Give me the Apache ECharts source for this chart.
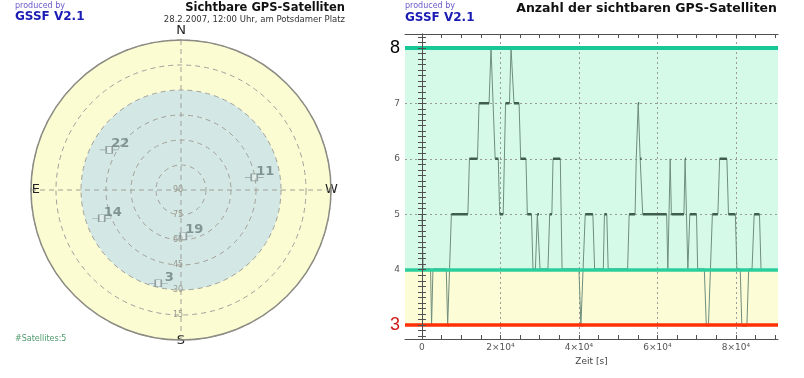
<!DOCTYPE html>
<html>
<head>
<meta charset="utf-8">
<script src="https://cdn.jsdelivr.net/npm/echarts@6/dist/echarts.min.js"></script>
<style>html,body{margin:0;padding:0;background:#fff}#c{width:804px;height:378px}</style>
</head>
<body>
<div id="c"></div>
<script>
// ---- skyplot data ----
const satIds = ['22', '11', '14', '19', '3'];
const satElevation = [40.7, 45.4, 39.5, 62.4, 32.4];
const satAzimuth = [60.8, 279.8, 109.6, 182.9, 166.3];
const elevTicks = [90, 75, 60, 45, 30, 15];
const compass = ['N', 'E', 'S', 'W'];   // azimuth 0, 90, 180, 270

// ---- visible satellite count over time ----
const timeS = [0, 300, 2200, 2450, 2550, 2800, 6200, 6550, 6900, 7500,
  11700, 12100, 14150, 14550, 17100, 17600, 18000, 18650, 19450, 19800,
  20700, 21300, 22300, 22700, 23000, 23450, 24750, 25150, 26500, 26850,
  27900, 28300, 28900, 29400, 29800, 30100, 32100, 32550, 33100, 33400,
  35250, 35700, 40000, 40500, 41000, 41600, 43550, 44000, 46200, 46500,
  47100, 47450, 52400, 52800, 54300, 54600, 54750, 55100, 55350, 55600,
  55950, 56250, 62350, 62650, 63250, 63550, 66750, 67050, 67250, 67750,
  68250, 69950, 70250, 71950, 72450, 73000, 74000, 75400, 75850, 77700,
  78100, 79850, 80250, 81100, 81500, 82800, 83250, 84100, 84650, 86000, 86400];
const satCount = [5, 4, 4, 3, 3, 4, 4, 3, 3, 5,
  5, 6, 6, 7, 7, 8, 8, 6, 6, 5,
  5, 7, 7, 8, 8, 7, 7, 6, 6, 5,
  5, 4, 4, 5, 5, 4, 4, 5, 5, 6,
  6, 4, 4, 3, 3, 5, 5, 4, 4, 5,
  5, 4, 4, 5, 5, 6, 6, 7, 7, 6,
  6, 5, 5, 4, 6, 5, 5, 6, 6, 4,
  5, 5, 4, 4, 3, 3, 5, 5, 6, 6,
  5, 5, 4, 4, 3, 3, 4, 4, 5, 5, 4];
const yTickLabels = [3, 4, 5, 6, 7, 8];
const xTickLabels = [0, 20000, 40000, 60000, 80000];
const xRange = [-4320, 90720];
const yRange = [2.75, 8.25];

const xMinor = []; for (let t = 0; t <= 90000; t += 5000) xMinor.push(t);
const yMinor = []; for (let k = 28; k <= 82; k++) yMinor.push(k / 10);

const lineData = timeS.map((t, i) => [t, satCount[i]]);
const flatData = [];
for (let i = 0; i < timeS.length - 1; i++) {
  if (satCount[i] === satCount[i + 1]) {
    flatData.push([timeS[i], satCount[i]], [timeS[i + 1], satCount[i]], [timeS[i + 1], null]);
  }
}

const FONT = 'DejaVu Sans';
const chart = echarts.init(document.getElementById('c'), null, {renderer: 'canvas'});

const xFmt = v => v === 0 ? '0' : (v / 10000) + '×10⁴';
const axisCol = '#505050';
const dashCol = '#a0a098';
const polarBox = {center: [181, 190], radius: 150};

chart.setOption({
  animation: false,
  textStyle: {fontFamily: FONT},
  title: [
    {text: 'produced by', left: 15, top: 2, padding: 0, textStyle: {fontSize: 8, fontWeight: 'normal', color: '#6a5ac8', fontFamily: FONT}},
    {text: 'GSSF V2.1', left: 15, top: 11, padding: 0, textStyle: {fontSize: 12, fontWeight: 'bold', color: '#1a1ab4', fontFamily: FONT}},
    {text: 'Sichtbare GPS-Satelliten', left: 345, top: 2, padding: 0, textAlign: 'right',
     subtext: '28.2.2007, 12:00 Uhr, am Potsdamer Platz', itemGap: 1,
     textStyle: {fontSize: 11.5, fontWeight: 'bold', color: '#111', fontFamily: FONT},
     subtextStyle: {fontSize: 8.5, color: '#333', fontFamily: FONT}},
    {text: 'produced by', left: 405, top: 2, padding: 0, textStyle: {fontSize: 8, fontWeight: 'normal', color: '#6a5ac8', fontFamily: FONT}},
    {text: 'GSSF V2.1', left: 405, top: 12, padding: 0, textStyle: {fontSize: 12, fontWeight: 'bold', color: '#1a1ab4', fontFamily: FONT}},
    {text: 'Anzahl der sichtbaren GPS-Satelliten', left: 777, top: 2, padding: 0, textAlign: 'right',
     textStyle: {fontSize: 12.5, fontWeight: 'bold', color: '#111', fontFamily: FONT}},
    {text: '#Satellites:' + satIds.length, left: 15, top: 335, padding: 0,
     textStyle: {fontSize: 8, fontWeight: 'normal', color: '#4f9a6c', fontFamily: FONT}}
  ],
  polar: [polarBox, polarBox],
  angleAxis: [
    { // background polar: fills only
      polarIndex: 0, type: 'value', min: 0, max: 360, interval: 90, startAngle: 270, clockwise: false, z: 0,
      axisLine: {show: false}, axisTick: {show: false}, axisLabel: {show: false}, splitLine: {show: false}
    },
    {
      polarIndex: 1, type: 'value', min: 0, max: 360, interval: 90, startAngle: 270, clockwise: false, z: 2,
      axisLine: {lineStyle: {color: '#8c8c84', width: 1.5}},
      axisTick: {show: false},
      axisLabel: {
        margin: -9,
        formatter: v => {
          if (v >= 360) return '';
          const c = compass[((v + 180) % 360) / 90];
          return '{' + c.toLowerCase() + '|' + c + '}';
        },
        rich: {
          n: {fontSize: 13, color: '#222', padding: [0, 0, 12, 0], fontFamily: FONT},
          s: {fontSize: 13, color: '#222', padding: [3, 0, 0, 0], fontFamily: FONT},
          e: {fontSize: 13, color: '#222', fontFamily: FONT},
          w: {fontSize: 13, color: '#222', padding: [0, 0, 0, 3], fontFamily: FONT}
        }
      },
      splitLine: {show: true, lineStyle: {type: [5, 4], color: dashCol, width: 1}}
    }
  ],
  radiusAxis: [
    {
      polarIndex: 0, type: 'value', min: 0, max: 90, interval: 15, inverse: true, z: 0,
      axisLine: {show: false}, axisTick: {show: false}, axisLabel: {show: false},
      splitLine: {show: false},
      splitArea: {show: true, areaStyle: {opacity: 1, color: ['#fcfcd2', '#fcfcd2', '#d3e8e4', '#d3e8e4', '#d3e8e4', '#d3e8e4']}}
    },
    {
      polarIndex: 1, type: 'value', min: 0, max: 90, interval: 15, inverse: true, z: 2,
      axisLine: {show: false}, axisTick: {show: false},
      axisLabel: {fontSize: 8, color: '#9a9a90', margin: -8,
        formatter: v => elevTicks.indexOf(v) >= 0 ? String(v) : ''},
      splitLine: {show: true, lineStyle: {type: [5, 4], color: dashCol, width: 1}},
      splitArea: {show: false}
    }
  ],
  grid: {left: 405, right: 26, top: 34, bottom: 39, show: false},
  xAxis: [
    {type: 'value', min: xRange[0], max: xRange[1], position: 'bottom', z: 10,
     axisLine: {show: true, lineStyle: {color: axisCol}},
     axisTick: {show: true, inside: true, length: 4, customValues: xMinor, lineStyle: {color: axisCol}},
     axisLabel: {customValues: xTickLabels, formatter: xFmt, fontSize: 9, color: '#555', margin: 4},
     splitLine: {show: false},
     name: 'Zeit [s]', nameLocation: 'middle', nameGap: 14,
     nameTextStyle: {fontSize: 9, color: '#444', fontFamily: FONT}},
    {type: 'value', min: xRange[0], max: xRange[1], position: 'top', z: 10,
     axisLine: {show: true, lineStyle: {color: axisCol}},
     axisTick: {show: true, inside: true, length: 4, customValues: xMinor, lineStyle: {color: axisCol}},
     axisLabel: {show: false}, splitLine: {show: false}}
  ],
  yAxis: [
    {type: 'value', min: yRange[0], max: yRange[1], position: 'left', z: 10,
     axisLine: {show: true, lineStyle: {color: axisCol}},
     axisTick: {show: true, inside: true, length: 4, customValues: yMinor, lineStyle: {color: axisCol}},
     axisLabel: {customValues: yTickLabels, margin: 5,
       formatter: v => v === 8 ? '{big|8}' : (v === 3 ? '{red|3}' : '{s|' + v + '}'),
       rich: {
         big: {fontSize: 18, color: '#000', fontFamily: 'Liberation Sans'},
         red: {fontSize: 18, color: '#d01818', fontFamily: 'Liberation Sans'},
         s: {fontSize: 9, color: '#555', fontFamily: FONT}
       }},
     splitLine: {show: false}},
    {type: 'value', min: yRange[0], max: yRange[1], position: 'right', z: 10,
     axisLine: {show: true, lineStyle: {color: axisCol}},
     axisTick: {show: true, inside: true, length: 4, customValues: yMinor, lineStyle: {color: axisCol}},
     axisLabel: {show: false}, splitLine: {show: false}}
  ],
  series: [
    {
      type: 'scatter', coordinateSystem: 'polar', polarIndex: 1,
      data: satIds.map((id, i) => ({name: id, value: [satElevation[i], (satAzimuth[i] + 180) % 360]})),
      symbol: 'path://M0,3.5L6.5,3.5M6.5,0L12.5,0L12.5,7L6.5,7ZM12.5,3.5L19,3.5',
      symbolSize: [19, 7],
      itemStyle: {color: 'rgba(255,255,255,0.35)', borderColor: '#7e8c8c', borderWidth: 1},
      label: {show: true, formatter: '{b}', position: 'inside', offset: [11, -6],
        fontSize: 13, fontWeight: 'bold', color: '#6c7e7e', fontFamily: FONT},
      silent: true, z: 5
    },
    {
      type: 'line', xAxisIndex: 0, yAxisIndex: 0, data: [], silent: true,
      markArea: {silent: true, z: 1, data: [
        [{yAxis: 4, itemStyle: {color: '#d5fbe8'}}, {yAxis: 8}],
        [{yAxis: 3, itemStyle: {color: '#fcfcd6'}}, {yAxis: 4}]
      ]},
      markLine: {silent: true, z: 2, symbol: ['none', 'none'], label: {show: false},
        lineStyle: {type: [2, 3], color: '#9a9a9a', width: 1},
        data: yTickLabels.map(v => ({yAxis: v})).concat(xTickLabels.map(v => ({xAxis: v})))}
    },
    {
      type: 'line', xAxisIndex: 0, yAxisIndex: 0, data: lineData, z: 3,
      showSymbol: false, symbol: 'none', silent: true,
      lineStyle: {color: '#6f8e7e', width: 1}
    },
    {
      type: 'line', xAxisIndex: 0, yAxisIndex: 0, data: flatData, z: 4,
      showSymbol: false, symbol: 'none', silent: true, connectNulls: false,
      lineStyle: {color: '#3f5c4e', width: 2.5}
    },
    {
      type: 'line', xAxisIndex: 0, yAxisIndex: 0, data: [], silent: true,
      markLine: {silent: true, z: 6, symbol: ['none', 'none'], label: {show: false},
        data: [
          {yAxis: 8, lineStyle: {color: '#17c795', width: 4, type: 'solid'}},
          {yAxis: 4, lineStyle: {color: '#2ccf9c', width: 3.5, type: 'solid'}},
          {yAxis: 3, lineStyle: {color: '#ff3006', width: 3.5, type: 'solid'}}
        ]}
    }
  ]
});
</script>
</body>
</html>
